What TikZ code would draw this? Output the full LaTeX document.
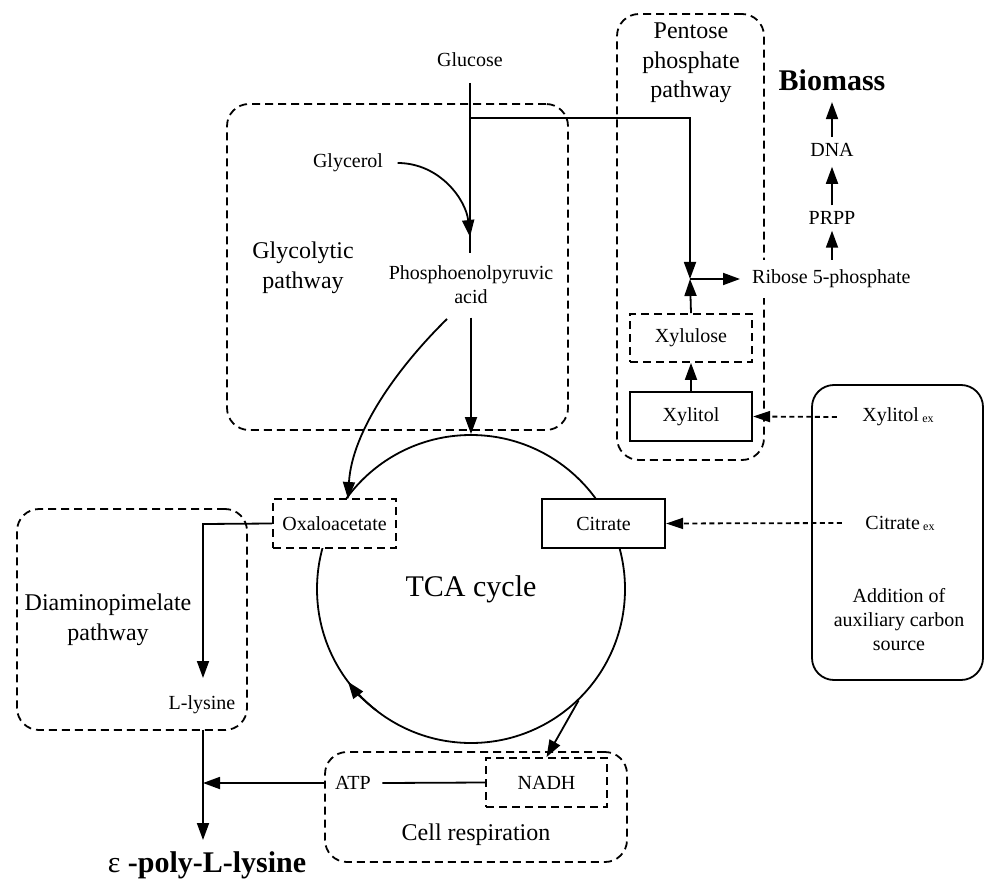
\documentclass[tikz,border=0pt]{standalone}
\usepackage{fontspec}
\setmainfont{Liberation Serif}
\usetikzlibrary{arrows.meta,calc}
\begin{document}
\begin{tikzpicture}[x=1pt,y=-1pt,
  lw/.style={line width=1.8pt},
  arr/.style={lw,-{Triangle[length=17pt,width=12pt]}},
  darr/.style={line width=1.8pt,dash pattern=on 5pt off 3.5pt,-{Triangle[length=17pt,width=11pt]}},
  t20/.style={font=\fontsize{20}{24}\selectfont},
  t24/.style={font=\fontsize{24}{29.5}\selectfont, align=center},
  dbox/.style={draw,lw,dash pattern=on 8pt off 5pt,rounded corners=22pt,inner sep=0pt},
  drect/.style={draw,lw,dash pattern=on 8pt off 5pt,fill=white,inner sep=0pt,t20},
  srect/.style={draw,line width=2.2pt,fill=white,inner sep=0pt,t20},
  bigb/.style={font=\fontsize{30}{36}\selectfont\bfseries},
]
\useasboundingbox (0,0) rectangle (984,882);

% group boxes
\node[dbox,minimum width=341pt,minimum height=326pt] (gly) at (397.5,267) {};
\node[t24] (glyT) at (303,268) {Glycolytic\\pathway};
\node[dbox,minimum width=147pt,minimum height=446pt] (ppp) at (690.5,237) {};
\node[t24] (pppT) at (691,63) {Pentose\\phosphate\\pathway};
\node[dbox,minimum width=230pt,minimum height=221pt] (dap) at (132,619.5) {};
\node[t24] (dapT) at (108,620) {Diaminopimelate\\pathway};
\node[dbox,minimum width=302pt,minimum height=110pt] (cell) at (476,807) {};
\node[t24] (cellT) at (476,835) {Cell respiration};
\node[draw,lw,rounded corners=22pt,minimum width=171pt,minimum height=295pt,inner sep=0pt] (aux) at (897.5,532.5) {};
\node[t20,align=center] (auxT) at (899,620) {Addition of\\auxiliary carbon\\source};

% TCA cycle
\node[circle,draw,lw,minimum size=308pt,inner sep=0pt,font=\fontsize{30}{36}\selectfont] (tca) at (471,589) {TCA cycle};

% metabolites
\node[t20] (glc) at (470,60) {Glucose};
\node[t20] (glyc) at (348,163) {Glycerol};
\node[t20,align=center] (pep) at (471,285) {Phosphoenolpyruvic\\acid};
\node[drect,minimum width=123pt,minimum height=49pt] (oxa) at (334.5,523.5) {Oxaloacetate};
\node[srect,minimum width=123pt,minimum height=49pt] (cit) at (603.5,523.5) {Citrate};
\node[drect,minimum width=122pt,minimum height=48pt] (xlu) at (691,338) {Xylulose};
\node[srect,minimum width=122pt,minimum height=49pt] (xlt) at (691,416.5) {Xylitol};
\node[drect,minimum width=121pt,minimum height=49pt] (nadh) at (546.5,782.5) {NADH};
\node[t20] (atp) at (353,783) {ATP};
\node[t20] (lys) at (202,705) {L-lysine};
\node[bigb] (epl) at (207,865) {{\mdseries ε} -poly-L-lysine};
\node[t20,fill=white,inner xsep=3pt,inner ysep=10pt,anchor=west] (rib) at (749,279) {Ribose 5-phosphate};
\node[t20,inner sep=6pt] (prpp) at (832,218) {PRPP};
\node[t20,inner sep=6pt] (dna) at (832,150) {DNA};
\node[bigb] (bio) at (832,80) {Biomass};
\node[t20] (xex) at (898,417) {Xylitol\,\raisebox{-1pt}{\fontsize{12}{12}\selectfont ex}};
\node[t20] (cex) at (900,523) {Citrate\,\raisebox{-1pt}{\fontsize{12}{12}\selectfont ex}};

% coordinates
\coordinate (gtop) at (470,83);
\coordinate (gbot) at (470,253);
\coordinate (br) at (470,118);
\coordinate (brc) at (690,118);
\coordinate (jn) at (690,279);
\coordinate (gm) at (470,237);
\coordinate (pepL) at (447,319);
\coordinate (oxaT) at (348,499);
\coordinate (j1) at (203,524);
\coordinate (lysT) at (203,678);
\coordinate (dapB) at (203,730);
\coordinate (j2) at (203,783);
\coordinate (eplT) at (203,840);

% connectors
\draw[lw] (gtop) -- (gbot);
\draw[arr] (br) -- (brc) -- (jn);
\draw[arr] ([xshift=11pt]glyc.east) .. controls (440,163) and (466,200) .. (gm);
\draw[arr,shorten <=10pt] (pep.south) -- (tca.north);
\draw[arr] (pepL) .. controls (400,365) and (352,430) .. (oxaT);
\draw[arr] (xlt.north) -- (xlu.south);
\draw[arr] (xlu.north) -- (jn);
\draw[arr] (jn) -- ([xshift=-9pt]rib.west);
\draw[arr] (rib.north -| prpp) -- (prpp.south);
\draw[arr,shorten >=4pt] (prpp.north) -- (dna.south);
\draw[arr,shorten >=8pt] (dna.north) -- (bio.south);
\draw[darr] ([xshift=-22pt]xex.west) -- (xlt.east);
\draw[darr] ([xshift=-20pt]cex.west) -- (cit.east);
\draw[arr] (oxa.west) -- (j1) -- (lysT);
\draw[arr] (dapB) -- (eplT);
\draw[arr] (atp.west -| cell.west) -- (j2);
\draw[lw] ([xshift=8pt]atp.east) -- (nadh.west);
\draw[arr] (tca.-46) -- (nadh.north);
\draw[arr] (tca.center) ++(128:154) arc[start angle=128,end angle=143,radius=154];
\end{tikzpicture}
\end{document}
